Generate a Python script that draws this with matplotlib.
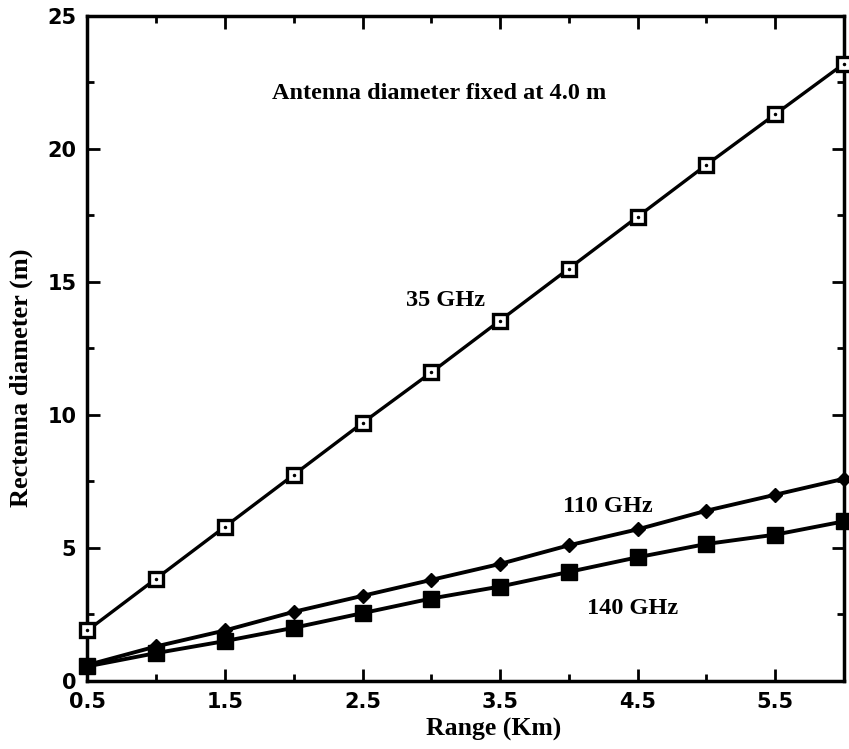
import matplotlib
matplotlib.use("Agg")
import matplotlib.pyplot as plt
from matplotlib.ticker import MultipleLocator

range_km = [0.5, 1.0, 1.5, 2.0, 2.5, 3.0, 3.5, 4.0, 4.5, 5.0, 5.5, 6.0]
d35 = [1.9, 3.85, 5.8, 7.75, 9.7, 11.6, 13.55, 15.5, 17.45, 19.4, 21.3, 23.2]
d110 = [0.6, 1.3, 1.9, 2.6, 3.2, 3.8, 4.4, 5.1, 5.7, 6.4, 7.0, 7.6]
d140 = [0.55, 1.05, 1.5, 2.0, 2.55, 3.1, 3.55, 4.1, 4.65, 5.15, 5.5, 6.0]
xticks = [0.5, 1.5, 2.5, 3.5, 4.5, 5.5]
xticklabels = ["0.5", "1.5", "2.5", "3.5", "4.5", "5.5"]
yticks = [0, 5, 10, 15, 20, 25]

fig = plt.figure(figsize=(8.49, 7.49), dpi=100)
ax = fig.add_axes([0.103, 0.0908, 0.891, 0.888])

ax.plot(range_km, d35, color="black", lw=2.4, marker="s", ms=10, mfc="white",
        mec="black", mew=2.4, clip_on=False, zorder=3)
ax.plot(range_km, d35, ls="none", marker=".", ms=3, color="black",
        clip_on=False, zorder=4)
ax.plot(range_km, d110, color="black", lw=2.8, marker="D", ms=7, mfc="black",
        mec="black", clip_on=False, zorder=3)
ax.plot(range_km, d140, color="black", lw=2.8, marker="s", ms=11, mfc="black",
        mec="black", clip_on=False, zorder=3)

ax.set_xlim(0.5, 6.0)
ax.set_ylim(0, 25)
ax.set_xticks(xticks)
ax.set_xticklabels(xticklabels)
ax.set_yticks(yticks)
ax.xaxis.set_minor_locator(MultipleLocator(0.5))
ax.yaxis.set_minor_locator(MultipleLocator(2.5))
ax.tick_params(which="both", direction="in", top=True, right=True, width=2)
ax.tick_params(which="major", length=9, labelsize=15, pad=8)
ax.tick_params(which="minor", length=5)
for lab in ax.get_xticklabels() + ax.get_yticklabels():
    lab.set_fontweight("bold")
    lab.set_family("DejaVu Sans")
for sp in ax.spines.values():
    sp.set_linewidth(2.5)

serif = "Liberation Serif"
ax.set_xlabel("Range (Km)", fontsize=18.5, fontweight="bold", family=serif)
ax.set_ylabel("Rectenna diameter (m)", fontsize=19, fontweight="bold", family=serif)
ax.xaxis.set_label_coords(0.537, -0.056)
ax.yaxis.set_label_coords(-0.072, 0.456)

ax.text(3.06, 22.1, "Antenna diameter fixed at 4.0 m", fontsize=17.5, fontweight="bold",
        family=serif, ha="center", va="center")
ax.text(3.10, 14.3, "35 GHz", fontsize=17.5, fontweight="bold", family=serif,
        ha="center", va="center")
ax.text(4.28, 6.54, "110 GHz", fontsize=17.5, fontweight="bold", family=serif,
        ha="center", va="center")
ax.text(4.46, 2.74, "140 GHz", fontsize=17.5, fontweight="bold", family=serif,
        ha="center", va="center")

fig.savefig("out.png", dpi=100)
